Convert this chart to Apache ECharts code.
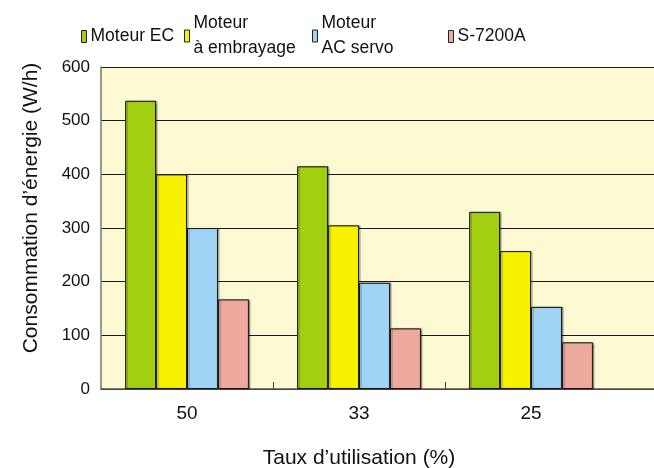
<!DOCTYPE html>
<html>
<head>
<meta charset="utf-8">
<script src="https://cdn.jsdelivr.net/npm/echarts@6/dist/echarts.min.js"></script>
<style>html,body{margin:0;padding:0;background:#fff}#c{width:654px;height:468px}</style>
</head>
<body>
<div id="c"></div>
<script>
var categories = ['50', '33', '25'];
var seriesNames = ['Moteur EC', 'Moteur\nà embrayage', 'Moteur\nAC servo', 'S-7200A'];
var moteurEC = [537, 415, 330];
var embrayage = [400, 305, 257];
var acServo = [300, 198, 153];
var s7200a = [167, 113, 87];
var yTicks = [0, 100, 200, 300, 400, 500, 600];

var colors = ['#a3cf13', '#f8f200', '#a0d4f5', '#eda99e'];
var FONT = '"Liberation Sans", Arial, sans-serif';
var values = [moteurEC, embrayage, acServo, s7200a];

var chart = echarts.init(document.getElementById('c'), null, {renderer: 'canvas'});

var legendPos = [
  {left: 81, top: 24},
  {left: 184, top: 11},
  {left: 312, top: 11},
  {left: 448, top: 24}
];

// the plot continues past the right edge of the picture: one empty slot after the three categories
var axisCategories = categories.concat(['']);

var option = {
  animation: false,
  textStyle: {fontFamily: FONT},
  legend: seriesNames.map(function (n, i) {
    return {
      data: [{name: n, icon: 'rect'}],
      left: legendPos[i].left,
      top: legendPos[i].top,
      padding: 0,
      itemWidth: 5,
      itemHeight: 12,
      itemGap: 5,
      selectedMode: false,
      textStyle: {fontSize: 17.5, color: '#111', fontFamily: FONT, lineHeight: 25, padding: [0, 0, 0, -1]},
      itemStyle: {borderColor: '#222', borderWidth: 1}
    };
  }),
  grid: {
    left: 101, top: 67, bottom: 79, right: -135,
    outerBoundsMode: 'none', containLabel: false,
    show: true, backgroundColor: '#fdf9d3', borderWidth: 0
  },
  xAxis: {
    type: 'category', data: axisCategories,
    name: 'Taux d’utilisation (%)', nameLocation: 'middle', nameGap: 59,
    nameTextStyle: {fontSize: 21, color: '#111', fontFamily: FONT, padding: [0, 172, 0, 0]},
    axisLine: {show: true, lineStyle: {color: '#555', width: 1.5}},
    axisTick: {show: true, inside: true, length: 7, lineStyle: {color: '#444'},
      interval: function (idx) { return idx === 1 || idx === 2; }},
    axisLabel: {fontSize: 19, color: '#111', margin: 15, fontFamily: FONT}
  },
  yAxis: {
    type: 'value', min: 0, max: 600, interval: 100,
    name: 'Consommation d’énergie (W/h)', nameLocation: 'middle', nameGap: 59,
    nameTextStyle: {fontSize: 21, color: '#111', fontFamily: FONT, padding: [0, 0, 0, 40]},
    axisLine: {show: true, lineStyle: {color: '#777', width: 1.5}},
    axisTick: {show: false},
    axisLabel: {fontSize: 17, color: '#111', margin: 11, fontFamily: FONT},
    splitLine: {show: true, lineStyle: {color: '#1a1a1a', width: 1.2}}
  },
  series: seriesNames.map(function (n, i) {
    return {
      name: n, type: 'bar',
      data: values[i],
      barGap: '0%', barCategoryGap: '28%',
      itemStyle: {color: colors[i], borderColor: '#1a1a1a', borderWidth: 1,
        shadowColor: 'rgba(0,0,0,0.35)', shadowOffsetX: 1.5, shadowOffsetY: 0, shadowBlur: 1}
    };
  })
};
chart.setOption(option);
</script>
</body>
</html>
